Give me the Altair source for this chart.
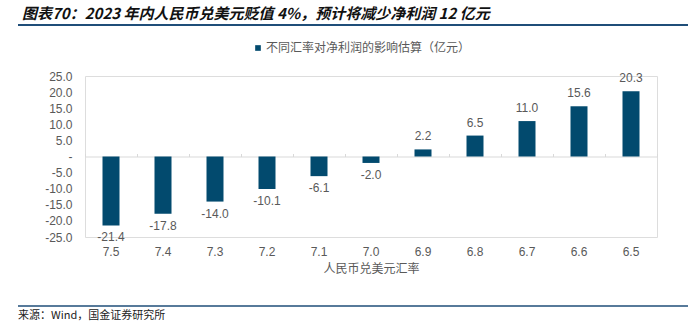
import altair as alt
import pandas as pd

rates = ["7.5", "7.4", "7.3", "7.2", "7.1", "7.0", "6.9", "6.8", "6.7", "6.6", "6.5"]
impact = [-21.4, -17.8, -14.0, -10.1, -6.1, -2.0, 2.2, 6.5, 11.0, 15.6, 20.3]
series_name = "不同汇率对净利润的影响估算（亿元）"
title_text = "图表70：2023 年内人民币兑美元贬值 4%，预计将减少净利润 12 亿元"
source_text = "来源：Wind，国金证券研究所"
x_title = "人民币兑美元汇率"
y_ticks = [-25, -20, -15, -10, -5, 0, 5, 10, 15, 20, 25]

df = pd.DataFrame({"rate": rates, "impact": impact, "series": [series_name] * len(rates)})

BAR = "#024a6e"
GRAY = "#595959"
LINE = "#1f4e79"
FONT = "Liberation Sans"
CJK = "Noto Sans CJK SC"

PL, PT, PR, PB = 85, 76, 37, 96
W, H = 694 - PL - PR, 333 - PT - PB

xscale = alt.Scale(domain=rates, paddingInner=0, paddingOuter=0)
yscale = alt.Scale(domain=[-25, 25], nice=False, zero=False)

yaxis = alt.Axis(values=y_ticks,
                 labelExpr="datum.value == 0 ? '-' : replace(format(datum.value, '.1f'), '\u2212', '-')",
                 domain=False, ticks=False, grid=False, labelPadding=13, labelFontSize=12,
                 labelColor=GRAY, labelFont=FONT, title=None)

bottom_axis = alt.Axis(orient="bottom", domain=False, ticks=False, labelAngle=0, labelPadding=9,
                       labelFontSize=12, labelColor=GRAY, labelFont=FONT,
                       title=x_title, titleFont=CJK, titleFontSize=12, titleFontWeight="normal",
                       titleColor=GRAY, titlePadding=6)

zero_axis = alt.Axis(orient="top", offset=-(H * 25 / 50), labels=False, domain=True,
                     domainColor="#d9d9d9", domainWidth=1, ticks=True, tickSize=3,
                     tickColor="#d9d9d9", tickBand="extent", grid=False, title=None)

base = alt.Chart(df).transform_calculate(
    lbl="replace(format(datum.impact, '.1f'), '\u2212', '-')"
)

Y = alt.Y("impact:Q", scale=yscale, axis=yaxis)

bars = base.mark_bar(size=17).encode(
    x=alt.X("rate:N", sort=rates, scale=xscale, axis=bottom_axis),
    y=Y,
    color=alt.Color("series:N", scale=alt.Scale(range=[BAR]),
                    legend=alt.Legend(orient="none", legendX=167, legendY=-34, title=None,
                                      symbolType="square", symbolSize=32, symbolStrokeWidth=0,
                                      labelFontSize=12, labelFont=CJK, labelColor=GRAY,
                                      labelLimit=400, symbolOffset=0, labelOffset=2)),
)

zero_line = base.mark_bar(opacity=0).encode(
    x=alt.X("rate:N", sort=rates, scale=xscale, axis=zero_axis),
    y=Y,
)

pos_labels = base.transform_filter("datum.impact >= 0").mark_text(
    dy=-13, baseline="middle", fontSize=12, font=FONT, color=GRAY
).encode(
    x=alt.X("rate:N", sort=rates, scale=xscale, axis=None),
    y=Y,
    text="lbl:N",
)

neg_labels = base.transform_filter("datum.impact < 0").mark_text(
    dy=12, baseline="middle", fontSize=12, font=FONT, color=GRAY
).encode(
    x=alt.X("rate:N", sort=rates, scale=xscale, axis=None),
    y=Y,
    text="lbl:N",
)

title_mark = alt.Chart(pd.DataFrame({"t": [title_text]})).mark_text(
    align="left", baseline="middle", fontSize=15, font=CJK, fontStyle="italic",
    fontWeight="bold", color="#111111"
).encode(x=alt.value(22 - PL), y=alt.value(14 - PT), text="t:N")

title_rule = alt.Chart(pd.DataFrame({"a": [0]})).mark_rule(color=LINE, strokeWidth=2).encode(
    x=alt.value(18 - PL), x2=alt.value(688 - PL), y=alt.value(25 - PT))

bottom_rule = alt.Chart(pd.DataFrame({"a": [0]})).mark_rule(color=LINE, strokeWidth=1.5).encode(
    x=alt.value(18 - PL), x2=alt.value(688 - PL), y=alt.value(306 - PT))

source_mark = alt.Chart(pd.DataFrame({"t": [source_text]})).mark_text(
    align="left", baseline="middle", fontSize=11, font=CJK, color="#222222"
).encode(x=alt.value(18 - PL), y=alt.value(316 - PT), text="t:N")

chart = alt.layer(
    zero_line, bars, pos_labels, neg_labels, title_mark, title_rule, bottom_rule, source_mark
).resolve_axis(x="independent").properties(
    width=W, height=H,
    autosize=alt.AutoSizeParams(type="none"),
    padding={"left": PL, "top": PT, "right": PR, "bottom": PB},
).configure_view(stroke=None).configure(background="white")

chart.save("out.html", embed_options={"renderer": "svg", "actions": False})
